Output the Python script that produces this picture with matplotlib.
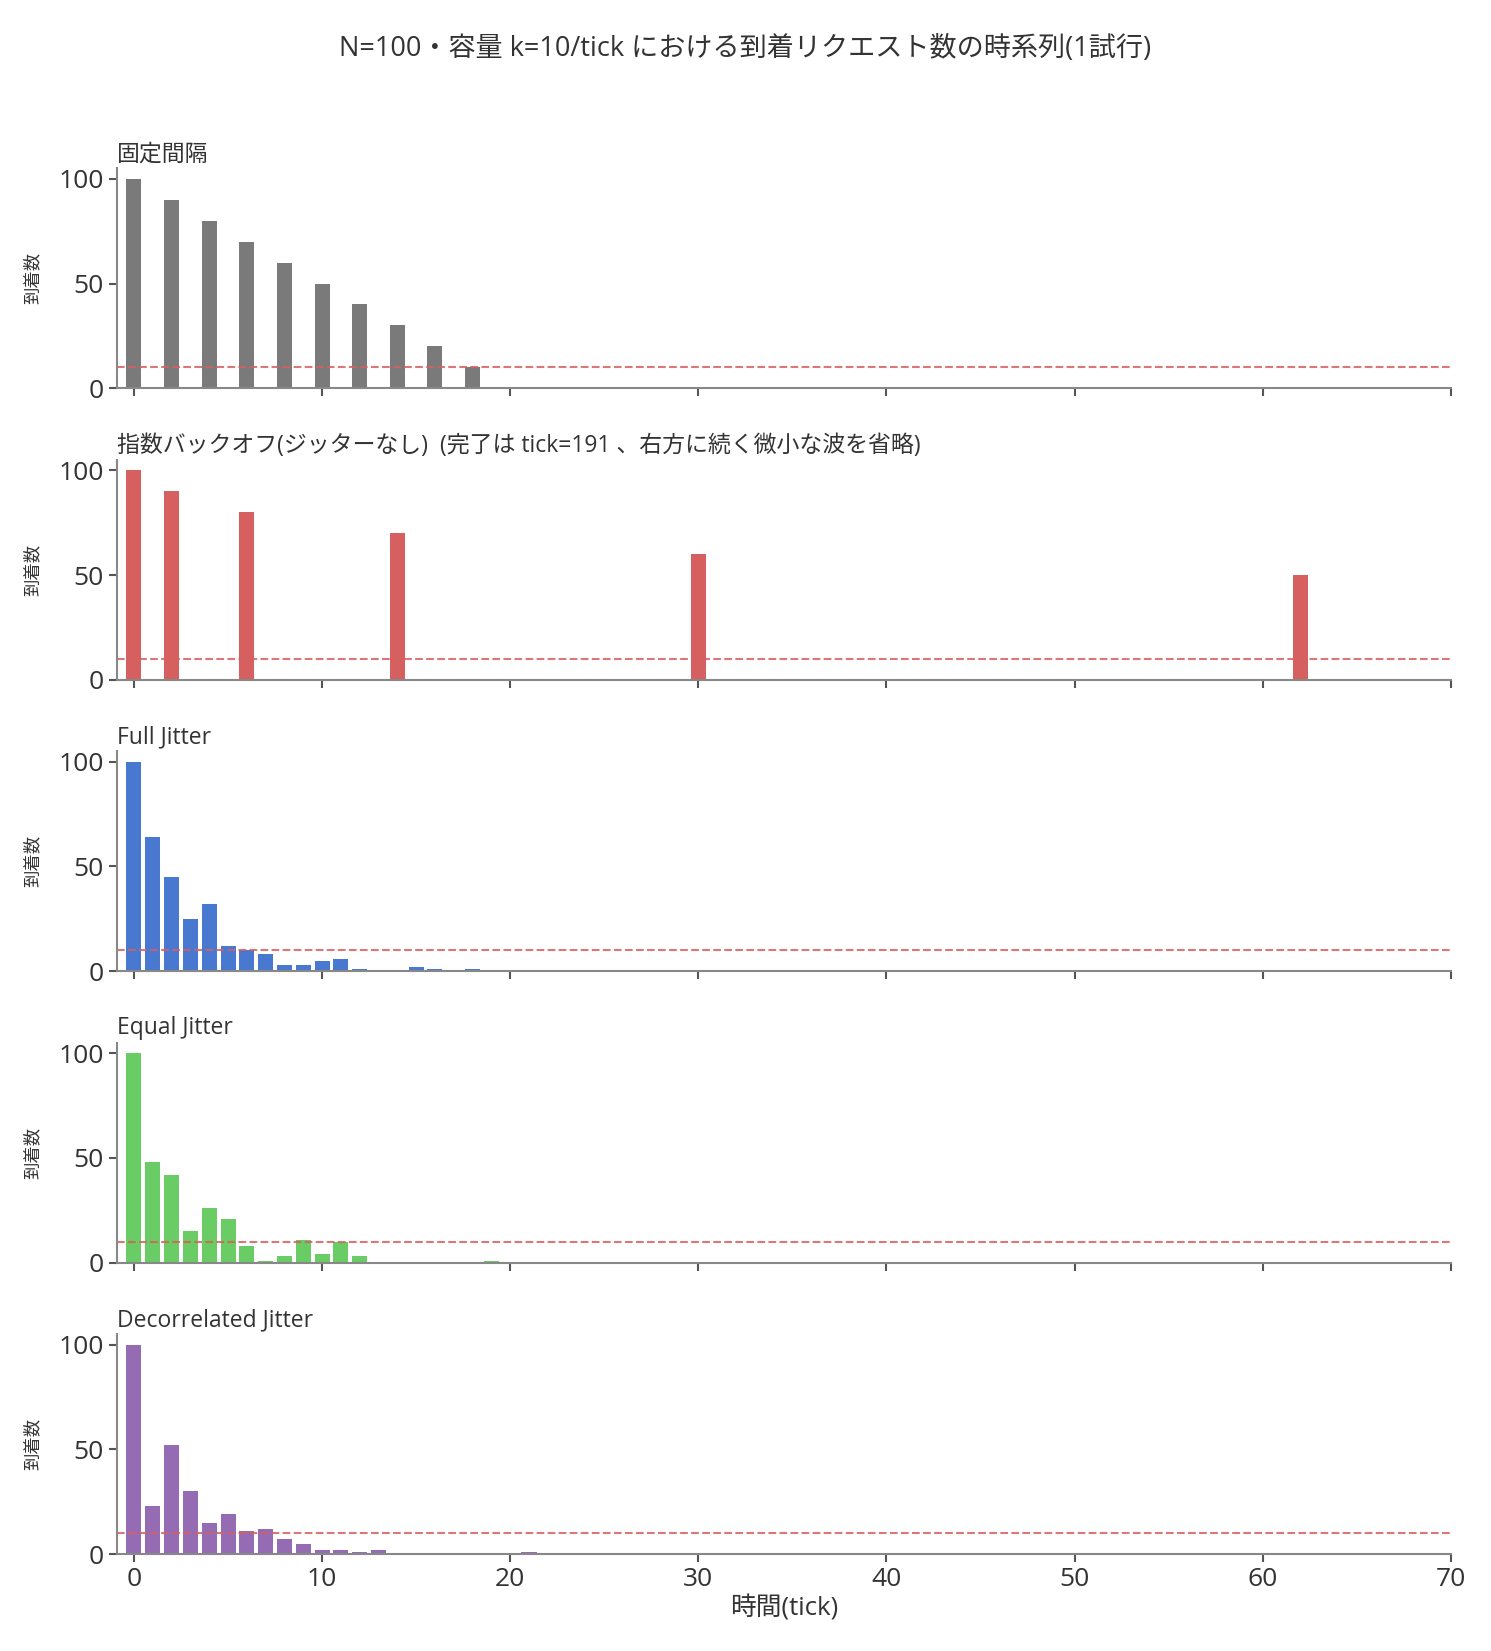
import numpy as np
import matplotlib
matplotlib.use("Agg")
import matplotlib.pyplot as plt

plt.rcParams['font.family'] = ['Open Sans', 'Noto Sans CJK JP', 'DejaVu Sans']

# data
fixed_t = [0, 2, 4, 6, 8, 10, 12, 14, 16, 18]
fixed_n = [100, 90, 80, 70, 60, 50, 40, 30, 20, 10]

expo_t = [0, 2, 6, 14, 30, 62]
expo_n = [100, 90, 80, 70, 60, 50]

full_t = [0, 1, 2, 3, 4, 5, 6, 7, 8, 9, 10, 11, 12, 15, 16, 18]
full_n = [100, 64, 45, 25, 32, 12, 10, 8, 3, 3, 5, 6, 1, 2, 1, 1]

equal_t = [0, 1, 2, 3, 4, 5, 6, 7, 8, 9, 10, 11, 12, 19]
equal_n = [100, 48, 42, 15, 26, 21, 8, 1, 3, 11, 4, 10, 3, 1]

decor_t = [0, 1, 2, 3, 4, 5, 6, 7, 8, 9, 10, 11, 12, 13, 21]
decor_n = [100, 23, 52, 30, 15, 19, 11, 12, 7, 5, 2, 2, 1, 2, 1]

capacity = 10

panels = [
    ("固定間隔", fixed_t, fixed_n, "#7a7a7a"),
    ("指数バックオフ(ジッターなし)  (完了は tick=191 、右方に続く微小な波を省略)", expo_t, expo_n, "#d65f5f"),
    ("Full Jitter", full_t, full_n, "#4878d0"),
    ("Equal Jitter", equal_t, equal_n, "#6acc64"),
    ("Decorrelated Jitter", decor_t, decor_n, "#956cb4"),
]

fig, axes = plt.subplots(5, 1, figsize=(14.91, 16.51), dpi=100, sharex=True)
fig.subplots_adjust(left=0.0785, right=0.973, top=0.898, bottom=0.0587, hspace=0.326)

for ax, (title, t, n, col) in zip(axes, panels):
    ax.bar(t, n, width=0.8, color=col)
    ax.axhline(capacity, color="#d65f5f", ls="--", lw=1.5, alpha=0.85)
    ax.set_title(title, loc="left", fontsize=16.5, color="#333333", pad=6)
    ax.set_ylabel("到着数", fontsize=12.5, color="#333333", labelpad=12)
    ax.set_ylim(0, 105)
    ax.set_yticks([0, 50, 100])
    ax.set_xlim(-0.9, 70)
    ax.set_xticks(range(0, 71, 10))
    for s in ("top", "right"):
        ax.spines[s].set_visible(False)
    for s in ("left", "bottom"):
        ax.spines[s].set_color("#888888")
        ax.spines[s].set_linewidth(1.5)
    ax.tick_params(axis="both", labelsize=19, colors="#555555", labelcolor="#333333",
                   length=6, width=1.5, direction="out")

axes[-1].set_xlabel("時間(tick)", fontsize=18.5, color="#333333", labelpad=2)
fig.suptitle("N=100・容量 k=10/tick における到着リクエスト数の時系列(1試行)",
             fontsize=19.5, color="#333333", y=0.979)

fig.savefig("out.png", dpi=100)
